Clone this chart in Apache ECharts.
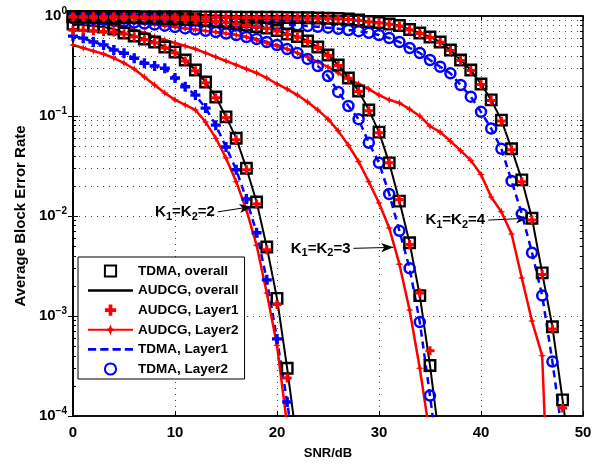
<!DOCTYPE html>
<html><head><meta charset="utf-8">
<script src="https://cdn.jsdelivr.net/npm/echarts@6/dist/echarts.min.js"></script>
<style>html,body{margin:0;padding:0;background:#fff}#c{width:595px;height:465px}</style>
</head><body><div id="c"></div>
<script>
// SNR grid: values are given at 0,1,2,... dB
const snrStep = 1;
const xTicks = [0, 10, 20, 30, 40, 50];
const legendNames = ['TDMA, overall','AUDCG, overall','AUDCG, Layer1','AUDCG, Layer2','TDMA, Layer1','TDMA, Layer2'];

// K1=K2=2
const k2Overall = [0.83,0.813,0.794,0.776,0.741,0.676,0.631,0.589,0.550,0.490,0.437,0.363,0.288,0.219,0.155,0.098,0.060,0.030,0.0138,0.0049,0.0015,0.0003,0.00005];
const k2AudcgL1 = [0.72,0.72,0.71,0.70,0.69,0.66,0.62,0.58,0.54,0.48,0.43,0.355,0.283,0.215,0.152,0.096,0.058,0.029,0.0132,0.0046,0.0013,0.00024,0.00004];
const k2AudcgL2 = [0.513,0.479,0.447,0.417,0.38,0.339,0.295,0.245,0.204,0.17,0.145,0.129,0.115,0.087,0.06,0.038,0.022,0.0115,0.0051,0.0017,0.00051,0.00008,0.00001];
const k2Tdma = [0.63,0.60,0.55,0.513,0.457,0.424,0.378,0.337,0.316,0.30,0.24,0.196,0.162,0.12,0.081,0.049,0.029,0.0148,0.0068,0.0023,0.00059,0.000138,0.000025];

// K1=K2=3
const k3Overall = [0.982,0.98,0.977,0.975,0.973,0.972,0.968,0.962,0.955,0.95,0.944,0.933,0.923,0.905,0.891,0.871,0.841,0.813,0.785,0.759,0.716,0.661,0.624,0.562,0.49,0.407,0.324,0.24,0.178,0.115,0.069,0.034,0.0141,0.0054,0.0016,0.00032,0.00005];
const k3AudcgL1 = [0.975,0.972,0.97,0.968,0.966,0.964,0.96,0.955,0.948,0.942,0.935,0.925,0.914,0.897,0.882,0.862,0.833,0.805,0.777,0.75,0.708,0.655,0.617,0.556,0.485,0.403,0.32,0.238,0.176,0.113,0.068,0.034,0.0145,0.0052,0.0017,0.00045,0.00006];
const k3AudcgL2 = [0.891,0.871,0.851,0.832,0.803,0.776,0.724,0.676,0.617,0.575,0.537,0.501,0.468,0.427,0.389,0.355,0.324,0.295,0.269,0.24,0.209,0.186,0.162,0.138,0.115,0.093,0.071,0.051,0.035,0.022,0.0135,0.0076,0.0033,0.00115,0.0003,0.000063];
const k3Tdma = [0.955,0.944,0.933,0.917,0.902,0.881,0.861,0.841,0.822,0.8,0.776,0.752,0.733,0.71,0.692,0.668,0.646,0.617,0.589,0.55,0.513,0.468,0.427,0.372,0.316,0.251,0.174,0.126,0.093,0.054,0.034,0.0166,0.0071,0.003,0.00087,0.00016,0.000025];

// K1=K2=4
const k4Overall = [0.99,0.99,0.99,0.989,0.989,0.988,0.987,0.986,0.985,0.984,0.984,0.982,0.981,0.979,0.978,0.977,0.975,0.973,0.972,0.971,0.97,0.967,0.964,0.96,0.955,0.95,0.944,0.933,0.912,0.881,0.861,0.832,0.803,0.733,0.676,0.617,0.55,0.457,0.363,0.288,0.209,0.145,0.091,0.047,0.023,0.0095,0.0027,0.00078,0.000145,0.000025];
const k4AudcgL1 = [0.985,0.985,0.984,0.984,0.983,0.982,0.981,0.98,0.979,0.978,0.977,0.976,0.974,0.972,0.971,0.97,0.968,0.966,0.964,0.963,0.962,0.959,0.956,0.952,0.947,0.942,0.935,0.925,0.904,0.873,0.853,0.825,0.796,0.727,0.67,0.611,0.545,0.452,0.359,0.285,0.206,0.143,0.089,0.046,0.022,0.0091,0.0026,0.00074,0.00012,0.00002];
const k4AudcgL2 = [0.955,0.944,0.933,0.917,0.902,0.881,0.861,0.841,0.822,0.8,0.776,0.752,0.733,0.71,0.692,0.668,0.646,0.617,0.575,0.537,0.501,0.468,0.427,0.389,0.347,0.309,0.269,0.234,0.209,0.186,0.162,0.145,0.135,0.117,0.1,0.079,0.069,0.056,0.045,0.036,0.026,0.0155,0.011,0.0066,0.0024,0.00089,0.0004,0.000001];
const k4Tdma = [0.966,0.962,0.959,0.955,0.951,0.945,0.94,0.933,0.927,0.92,0.912,0.904,0.896,0.888,0.879,0.87,0.861,0.853,0.845,0.836,0.828,0.818,0.807,0.794,0.78,0.764,0.746,0.724,0.705,0.679,0.646,0.603,0.55,0.479,0.427,0.363,0.311,0.267,0.204,0.156,0.11,0.075,0.047,0.0224,0.0105,0.0043,0.0016,0.00035,0.000063];

// annotation arrows: [label, [x0,y0], [x1,y1]] in data units
const notes = [
  ['2', [14.2, 0.011], [17.5, 0.0124]],
  ['3', [27.5, 0.00475], [31.4, 0.00486]],
  ['4', [40.7, 0.0091], [44.6, 0.0095]]
];

const toXY = arr => arr.map((v, i) => [i * snrStep, v]);
const PLUS = 'path://M3,0H6V3H9V6H6V9H3V6H0V3H3Z';
const STAR = 'path://M5,0L6.3,3.7L10,5L6.3,6.3L5,10L3.7,6.3L0,5L3.7,3.7Z';
const RED = '#ff0000', BLUE = '#0000ff', BLACK = '#000000';
const FONT = '"Liberation Sans", Arial, sans-serif';

function dashed(name, arr) {
  return {name, type:'line', data: toXY(arr), symbol:'none', z:2,
    itemStyle:{color:BLUE}, lineStyle:{color:BLUE, width:2.5, type:[7,5]}};
}
function redL2(name, arr) {
  return {name, type:'line', data: toXY(arr), symbol:STAR, symbolSize:8, z:3,
    itemStyle:{color:RED}, lineStyle:{color:RED, width:2.5}};
}
function blackLine(name, arr) {
  return {name, type:'line', data: toXY(arr), symbol:'none', z:4,
    itemStyle:{color:BLACK}, lineStyle:{color:BLACK, width:2}};
}
function circles(name, arr) {
  return {name, type:'line', data: toXY(arr), symbol:'circle', symbolSize:10, z:5,
    itemStyle:{color:'rgba(0,0,0,0)', borderColor:BLUE, borderWidth:2.5},
    lineStyle:{width:0, opacity:0}};
}
function bluePlus(name, arr) {
  return {name, type:'line', data: toXY(arr), symbol:PLUS, symbolSize:10, z:5,
    itemStyle:{color:BLUE}, lineStyle:{width:0, opacity:0}};
}
function squares(name, arr) {
  return {name, type:'line', data: toXY(arr), symbol:'rect', symbolSize:10.5, z:6,
    itemStyle:{color:'rgba(0,0,0,0)', borderColor:BLACK, borderWidth:2.4},
    lineStyle:{width:0, opacity:0}};
}
function redPlus(name, arr) {
  return {name, type:'line', data: toXY(arr), symbol:PLUS, symbolSize:9, z:7,
    itemStyle:{color:RED}, lineStyle:{width:0, opacity:0}};
}

// minor log grid / ticks
const minorVals = [];
for (let d = 1e-4; d < 1; d *= 10) for (let k = 2; k <= 9; k++) minorVals.push(+(k * d).toPrecision(3));
const dotted = {color:'#444', width:1, type:[1,5]};
const gridMarks = [];
minorVals.forEach(v => {
  gridMarks.push({yAxis: v, lineStyle: dotted});
  gridMarks.push([{coord:[0, v], lineStyle:{color:BLACK, width:1, type:'solid'}}, {coord:[0.3, v]}]);
  gridMarks.push([{coord:[49.7, v], lineStyle:{color:BLACK, width:1, type:'solid'}}, {coord:[50, v]}]);
});

const noteMarks = notes.map(n => [
  {coord:n[1], label:{show:true, position:'start', distance:3,
    formatter:'{k|K}{s|1}{k|=K}{s|2}{k|=' + n[0] + '}',
    rich:{k:{fontSize:15, fontWeight:'bold', color:BLACK, fontFamily:FONT},
          s:{fontSize:11, fontWeight:'bold', color:BLACK, fontFamily:FONT, padding:[10,0,0,0]}}}},
  {coord:n[2]}
]);

// legend icons (line-only entries drawn as paths; marker entries inherit from the series)
const ICON_SOLID = 'path://M0,0H45V2.5H0Z';
const ICON_DASH = 'path://M0,0H8V2.5H0Z M12,0H20V2.5H12Z M24,0H32V2.5H24Z M36,0H44V2.5H36Z';
const legendData = [
  {name:legendNames[0]},
  {name:legendNames[1], icon:ICON_SOLID, itemStyle:{color:BLACK, borderWidth:0}},
  {name:legendNames[2]},
  {name:legendNames[3]},
  {name:legendNames[4], icon:ICON_DASH, itemStyle:{color:BLUE, borderWidth:0}},
  {name:legendNames[5]}
];

const series = [
  dashed('TDMA, Layer1', k3Tdma), dashed('TDMA, Layer1', k2Tdma), dashed('TDMA, Layer1', k4Tdma),
  redL2('AUDCG, Layer2', k2AudcgL2), redL2('AUDCG, Layer2', k3AudcgL2), redL2('AUDCG, Layer2', k4AudcgL2),
  blackLine('AUDCG, overall', k2Overall), blackLine('AUDCG, overall', k3Overall), blackLine('AUDCG, overall', k4Overall),
  circles('TDMA, Layer2', k3Tdma), circles('TDMA, Layer2', k4Tdma), bluePlus('TDMA, Layer2', k2Tdma),
  squares('TDMA, overall', k2Overall), squares('TDMA, overall', k3Overall), squares('TDMA, overall', k4Overall),
  redPlus('AUDCG, Layer1', k2AudcgL1), redPlus('AUDCG, Layer1', k3AudcgL1), redPlus('AUDCG, Layer1', k4AudcgL1),
  {name:'_grid', type:'line', data:[], symbol:'none', silent:true, z:1,
    markLine:{silent:true, symbol:['none','none'], label:{show:false}, animation:false, data:gridMarks}},
  {name:'_notes', type:'line', data:[], symbol:'none', silent:true, z:8,
    markLine:{silent:true, symbol:['none','arrow'], symbolSize:[7,12], animation:false,
      lineStyle:{color:BLACK, width:1, type:'solid'}, data:noteMarks}}
];

const supLabel = v => {
  const e = Math.round(Math.log10(v));
  return '{b|10}{e|' + (e < 0 ? '\u2212' + (-e) : e) + '}';
};

const chart = echarts.init(document.getElementById('c'), null, {renderer:'canvas'});
chart.setOption({
  animation:false,
  backgroundColor:'#fff',
  textStyle:{fontFamily:FONT},
  grid:{left:73, right:12, top:16, bottom:49, show:true, borderColor:BLACK, borderWidth:1.5, backgroundColor:'#fff'},
  legend:{data:legendData, orient:'vertical', left:78, top:257, itemWidth:45, itemHeight:14, itemGap:5.6,
    padding:[7,6,3,9], backgroundColor:'#fff', borderColor:BLACK, borderWidth:1, borderRadius:0,
    selectedMode:false, textStyle:{fontSize:13.5, fontWeight:'bold', color:BLACK, fontFamily:FONT}},
  xAxis:[{type:'value', min:0, max:50, interval:10, position:'bottom',
      name:'SNR/dB', nameLocation:'middle', nameGap:31,
      nameTextStyle:{fontSize:13, fontWeight:'bold', color:BLACK, fontFamily:FONT},
      axisLine:{show:true, lineStyle:{color:BLACK, width:1.5}},
      axisTick:{show:true, inside:true, length:5, lineStyle:{color:BLACK}},
      axisLabel:{fontSize:15, fontWeight:'bold', color:BLACK, margin:9, fontFamily:FONT,
        customValues: xTicks},
      splitLine:{show:true, lineStyle:dotted}},
    {type:'value', min:0, max:50, interval:10, position:'top',
      axisLine:{show:true, lineStyle:{color:BLACK, width:1.5}},
      axisTick:{show:true, inside:true, length:5, lineStyle:{color:BLACK}},
      axisLabel:{show:false}, splitLine:{show:false}}],
  yAxis:[{type:'log', logBase:10, min:1e-4, max:1, position:'left',
      name:'Average Block Error Rate', nameLocation:'middle', nameGap:42, nameRotate:90,
      nameTextStyle:{fontSize:15, fontWeight:'bold', color:BLACK, fontFamily:FONT},
      axisLine:{show:true, lineStyle:{color:BLACK, width:1.5}},
      axisTick:{show:true, inside:true, length:5, lineStyle:{color:BLACK}},
      axisLabel:{formatter:supLabel, margin:6,
        rich:{b:{fontSize:15, fontWeight:'bold', color:BLACK, fontFamily:FONT},
              e:{fontSize:10, fontWeight:'bold', color:BLACK, fontFamily:FONT, padding:[0,0,9,0]}}},
      splitLine:{show:true, lineStyle:dotted}},
    {type:'log', logBase:10, min:1e-4, max:1, position:'right',
      axisLine:{show:true, lineStyle:{color:BLACK, width:1.5}},
      axisTick:{show:true, inside:true, length:5, lineStyle:{color:BLACK}},
      axisLabel:{show:false}, splitLine:{show:false}}],
  series
});
</script></body></html>
